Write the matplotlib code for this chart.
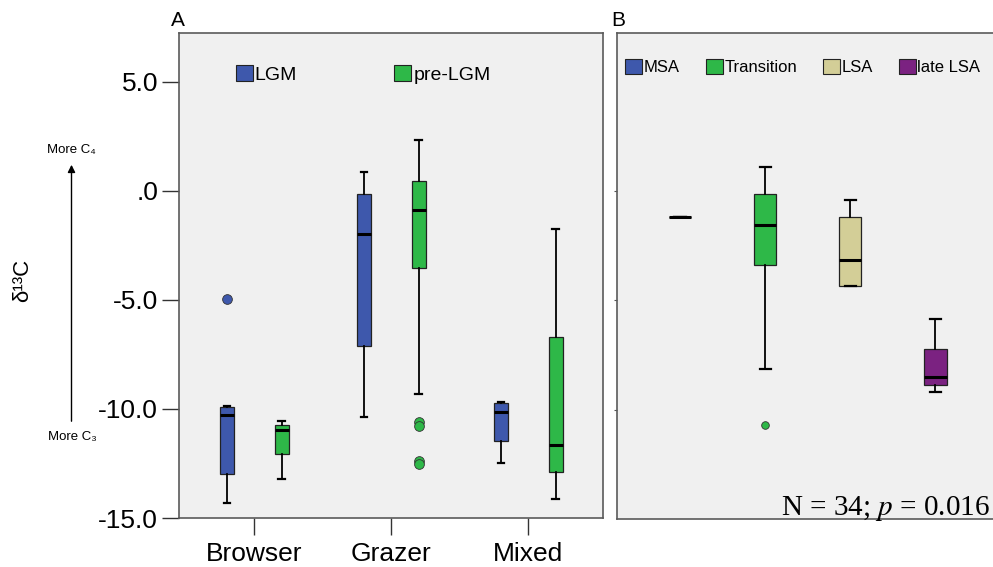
import matplotlib
matplotlib.use("Agg")
import matplotlib.pyplot as plt
import matplotlib.patches as mpatches

plt.rcParams['font.family'] = ['Liberation Sans', 'DejaVu Sans']
plt.rcParams['mathtext.fontset'] = 'stix'

# Panel A: diet groups, two periods (box stats)
diet_groups = ["Browser", "Grazer", "Mixed"]
lgm_whislo = [-14.3, -10.37, -12.48]
lgm_q1 = [-13.0, -7.1, -11.47]
lgm_med = [-10.3, -1.99, -10.15]
lgm_q3 = [-9.9, -0.15, -9.75]
lgm_whishi = [-9.88, 0.87, -9.68]
lgm_fliers = [[-4.98], [], []]

pre_whislo = [-13.2, -9.33, -14.11]
pre_q1 = [-12.08, -3.55, -12.89]
pre_med = [-10.98, -0.9, -11.67]
pre_q3 = [-10.76, 0.45, -6.72]
pre_whishi = [-10.55, 2.33, -1.77]
pre_fliers = [[], [-10.6, -10.8, -12.38, -12.54], []]

# Panel B: archaeological periods
periods = ["MSA", "Transition", "LSA", "late LSA"]
per_whislo = [-1.22, -8.15, -4.34, -9.19]
per_q1 = [-1.22, -3.38, -4.34, -8.88]
per_med = [-1.22, -1.57, -3.15, -8.53]
per_q3 = [-1.22, -0.17, -1.22, -7.22]
per_whishi = [-1.22, 1.1, -0.44, -5.86]
per_fliers = [[], [-10.7], [], []]

y_ticks = [5, 0, -5, -10, -15]
y_ticklabels = ["5.0", ".0", "-5.0", "-10.0", "-15.0"]

BLUE = "#3e58ac"
GREEN = "#2eb848"
TAN = "#d3ce97"
PURPLE = "#7b2281"
BG = "#f0f0f0"
SPINE = "#5a5a5a"


def make_stats(lo, q1, med, q3, hi, fl):
    return [dict(whislo=a, q1=b, med=c, q3=d, whishi=e, fliers=f)
            for a, b, c, d, e, f in zip(lo, q1, med, q3, hi, fl)]


def draw_boxes(ax, stats, positions, width, colors, msize):
    bp = ax.bxp(stats, positions=positions, widths=width, patch_artist=True,
                showfliers=True, capwidths=width * 0.5,
                medianprops=dict(color="black", linewidth=2.2),
                whiskerprops=dict(color="black", linewidth=1.3),
                capprops=dict(color="black", linewidth=1.6),
                boxprops=dict(linewidth=0.9, edgecolor="#222222"))
    for patch, c in zip(bp["boxes"], colors):
        patch.set_facecolor(c)
    for fl, c in zip(bp["fliers"], colors):
        fl.set(marker="o", markerfacecolor=c, markeredgecolor="#333333",
               markeredgewidth=0.6, markersize=msize, linestyle="none")
    return bp


fig = plt.figure(figsize=(9.93, 5.67), dpi=100)

# ---- Panel A ----
axA = fig.add_axes([179 / 993, 1 - 518 / 567, 424 / 993, 485 / 567])
axA.set_facecolor(BG)
xs = list(range(len(diet_groups)))
draw_boxes(axA, make_stats(lgm_whislo, lgm_q1, lgm_med, lgm_q3, lgm_whishi, lgm_fliers),
           [x - 0.2 for x in xs], 0.1, [BLUE] * 3, 7)
draw_boxes(axA, make_stats(pre_whislo, pre_q1, pre_med, pre_q3, pre_whishi, pre_fliers),
           [x + 0.2 for x in xs], 0.1, [GREEN] * 3, 7)
axA.set_xlim(-0.55, 2.545)
axA.set_ylim(-15, 7.23)
axA.set_xticks(xs)
axA.set_xticklabels(diet_groups, fontsize=19)
axA.set_yticks(y_ticks)
axA.set_yticklabels(y_ticklabels, fontsize=19)
axA.tick_params(axis="both", length=12, width=1.0, color="#333333", pad=3)
axA.tick_params(axis="x", pad=5)
for s in axA.spines.values():
    s.set_color(SPINE)
    s.set_linewidth(1.2)

handlesA = [mpatches.Patch(facecolor=BLUE, edgecolor="#222222", linewidth=0.8, label="LGM"),
            mpatches.Patch(facecolor=GREEN, edgecolor="#222222", linewidth=0.8, label="pre-LGM")]
axA.legend(handles=handlesA, loc="upper left", bbox_to_anchor=(0.134, 0.933), ncol=2,
           frameon=False, fontsize=14, handlelength=0.875, handleheight=0.875,
           handletextpad=0.1, columnspacing=5.0, borderpad=0, borderaxespad=0)

axA.set_ylabel("δ¹³C", fontsize=16, labelpad=0)
axA.yaxis.set_label_coords(-0.345, 0.49)

# More C4 / More C3 arrow
fig.text(71 / 993, 1 - 150 / 567, "More C\u2084", fontsize=9.5, ha="center", va="center")
fig.text(72 / 993, 1 - 437 / 567, "More C\u2083", fontsize=9.5, ha="center", va="center")
fig.add_artist(mpatches.FancyArrowPatch((71.5 / 993, 1 - 424 / 567), (71.5 / 993, 1 - 162 / 567),
                                        transform=fig.transFigure, arrowstyle="-|>",
                                        mutation_scale=11, color="black", linewidth=1.0))

fig.text(171 / 993, 1 - 21 / 567, "A", fontsize=15, ha="left", va="center")
fig.text(611 / 993, 1 - 21 / 567, "B", fontsize=15, ha="left", va="center")

# ---- Panel B ----
axB = fig.add_axes([617 / 993, 1 - 519 / 567, 390 / 993, 486 / 567])
axB.set_facecolor(BG)
ps = list(range(len(periods)))
draw_boxes(axB, make_stats(per_whislo, per_q1, per_med, per_q3, per_whishi, per_fliers),
           ps, 0.26, [BLUE, GREEN, TAN, PURPLE], 5.5)
axB.set_xlim(-0.74, 3.84)
axB.set_ylim(-15, 7.2)
axB.set_xticks([])
axB.set_yticks(y_ticks[1:4])
axB.set_yticklabels([])
axB.tick_params(axis="y", length=2, width=0.8, color="#555555")
axB.spines["right"].set_visible(False)
for s in ["top", "left", "bottom"]:
    axB.spines[s].set_color(SPINE)
    axB.spines[s].set_linewidth(1.2)

handlesB = [mpatches.Patch(facecolor=c, edgecolor="#222222", linewidth=0.8, label=l)
            for c, l in zip([BLUE, GREEN, TAN, PURPLE], periods)]
axB.legend(handles=handlesB, loc="upper left", bbox_to_anchor=(0.021, 0.947), ncol=4,
           frameon=False, fontsize=12, handlelength=1.02, handleheight=1.02,
           handletextpad=0.1, columnspacing=1.55, borderpad=0, borderaxespad=0)

fig.text(990 / 993, 1 - 515 / 567, "N = 34; $p$ = 0.016", fontsize=21,
         family="Liberation Serif", ha="right", va="baseline")

fig.savefig("out.png", dpi=100)
